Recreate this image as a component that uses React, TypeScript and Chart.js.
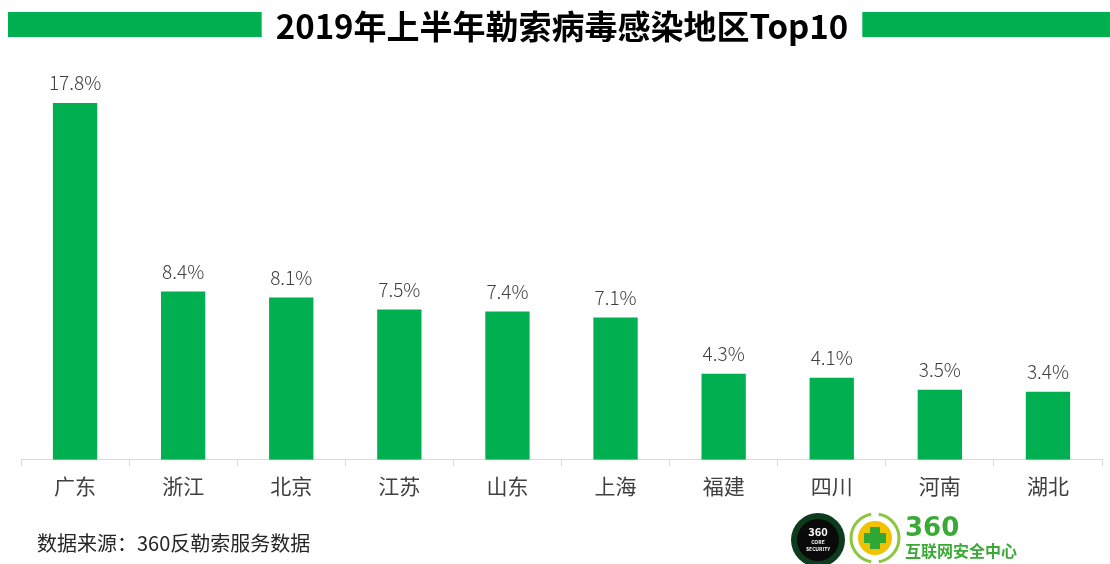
import React, { useEffect, useRef } from "react";
import { Chart, registerables } from "chart.js";

Chart.register(...registerables);

const categories = ["广东", "浙江", "北京", "江苏", "山东", "上海", "福建", "四川", "河南", "湖北"];
const values = [17.8, 8.4, 8.1, 7.5, 7.4, 7.1, 4.3, 4.1, 3.5, 3.4];
const titleText = "2019年上半年勒索病毒感染地区Top10";
const sourceText = "数据来源：360反勒索服务数据";
const logoTitle = "360";
const logoSub = "互联网安全中心";

const GREEN = "#00B050";
const CJK = '"Noto Sans CJK SC", "Noto Sans", sans-serif';

const decorPlugin = {
  id: "decor",
  afterDraw(chart: any) {
    const ctx = chart.ctx as CanvasRenderingContext2D;
    const W = chart.width;
    ctx.save();
    // title
    ctx.font = `bold 33px ${CJK}`;
    ctx.fillStyle = "#000";
    ctx.textAlign = "center";
    ctx.textBaseline = "middle";
    const cx = 562;
    const cy = 26;
    ctx.fillText(titleText, cx, cy);
    const tw = ctx.measureText(titleText).width;
    ctx.fillStyle = GREEN;
    ctx.fillRect(8, 12, cx - tw / 2 - 14 - 8, 25);
    ctx.fillRect(cx + tw / 2 + 14, 12, W - (cx + tw / 2 + 14), 25);

    // data labels
    const meta = chart.getDatasetMeta(0);
    ctx.font = `300 19px ${CJK}`;
    ctx.fillStyle = "#404040";
    ctx.textAlign = "center";
    ctx.textBaseline = "middle";
    meta.data.forEach((el: any, i: number) => {
      ctx.fillText(values[i].toFixed(1) + "%", el.x, el.y - 20);
    });

    // source
    ctx.font = `20px ${CJK}`;
    ctx.fillStyle = "#262626";
    ctx.textAlign = "left";
    ctx.fillText(sourceText, 37, 543);

    // logo 1: dark circle
    ctx.beginPath();
    ctx.arc(818, 540, 27, 0, Math.PI * 2);
    ctx.fillStyle = "#0d3b1e";
    ctx.fill();
    ctx.beginPath();
    ctx.arc(818, 540, 21, 0, Math.PI * 2);
    ctx.fillStyle = "#0a0a0a";
    ctx.fill();
    ctx.fillStyle = "#fff";
    ctx.textAlign = "center";
    ctx.font = `bold 11px ${CJK}`;
    ctx.fillText("360", 818, 532);
    ctx.font = `bold 5px ${CJK}`;
    ctx.fillText("CORE", 818, 542);
    ctx.fillText("SECURITY", 818, 549);

    // logo 2: wreath + plus
    ctx.strokeStyle = "#8cc63f";
    ctx.lineWidth = 3;
    ctx.beginPath();
    ctx.arc(875, 538, 24, Math.PI * 0.55, Math.PI * 1.45);
    ctx.stroke();
    ctx.beginPath();
    ctx.arc(875, 538, 24, -Math.PI * 0.45, Math.PI * 0.45);
    ctx.stroke();
    ctx.beginPath();
    ctx.arc(875, 538, 17, 0, Math.PI * 2);
    ctx.fillStyle = "#f2c200";
    ctx.fill();
    ctx.fillStyle = "#2fa836";
    ctx.fillRect(870, 527, 10, 22);
    ctx.fillRect(864, 533, 22, 10);

    // logo text
    ctx.fillStyle = "#3aa935";
    ctx.textAlign = "left";
    ctx.font = `bold 26px "DejaVu Sans", sans-serif`;
    ctx.fillText(logoTitle, 905, 529);
    ctx.font = `bold 16px ${CJK}`;
    ctx.fillText(logoSub, 905, 551);
    ctx.restore();
  },
};

export default function App() {
  const ref = useRef<HTMLCanvasElement>(null);
  useEffect(() => {
    document.body.style.margin = "0";
    const chart = new Chart(ref.current!, {
      type: "bar",
      data: {
        labels: categories,
        datasets: [
          {
            data: values,
            backgroundColor: GREEN,
            barPercentage: 0.41,
            categoryPercentage: 1,
          },
        ],
      },
      options: {
        animation: false,
        responsive: false,
        layout: { padding: { top: 59, left: 21, right: 8, bottom: 57 } },
        plugins: { legend: { display: false }, tooltip: { enabled: false }, title: { display: false } },
        scales: {
          y: { display: false, min: 0, max: 20 },
          x: {
            offset: true,
            grid: {
              offset: true,
              drawOnChartArea: false,
              tickLength: 6,
              color: "#d9d9d9",
            },
            border: { color: "#d9d9d9" },
            ticks: {
              padding: 8,
              color: "#404040",
              font: { family: CJK, size: 21 },
            },
          },
        },
      },
      plugins: [decorPlugin],
    });
    return () => chart.destroy();
  }, []);
  return (
    <div style={{ position: "relative", width: 1110, height: 564, background: "#fff" }}>
      <canvas ref={ref} width={1110} height={564} />
    </div>
  );
}
